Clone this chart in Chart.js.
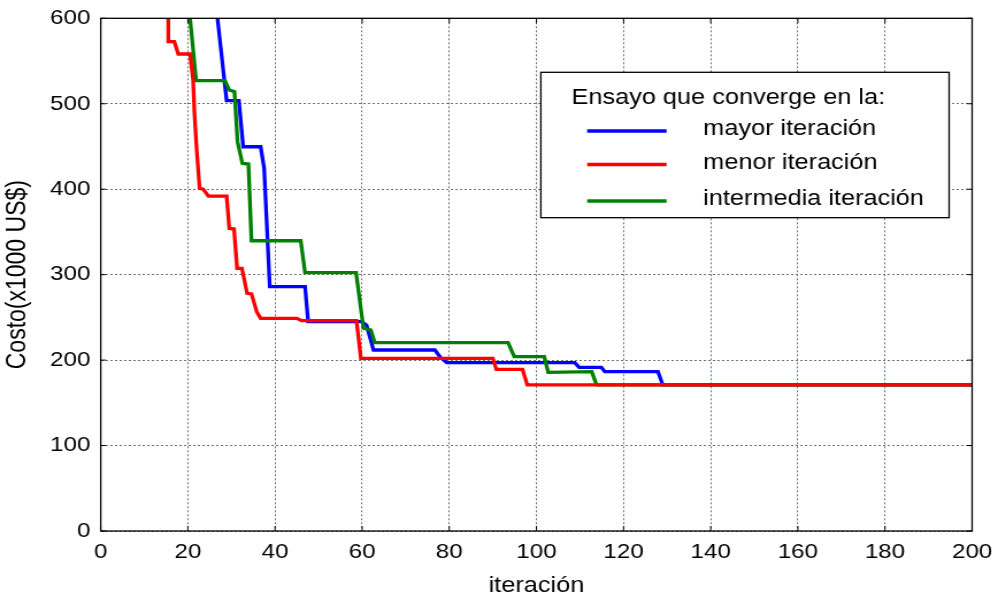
<!DOCTYPE html>
<html>
<head>
<meta charset="utf-8">
<script src="https://cdn.jsdelivr.net/npm/chart.js@4/dist/chart.umd.min.js"></script>
<style>
  html, body { margin: 0; padding: 0; background: #fff; }
  /* canvas is drawn narrower and widened by css, like the original figure export */
  #grafico { display: block; width: 998px; height: 599px; }
</style>
</head>
<body>
<canvas id="grafico" width="868" height="599" style="width:998px;height:599px"></canvas>
<script>
// iteración / costo (x1000 US$) para cada ensayo
const iterMayor = [25.9, 26.8, 28.9, 31.7, 32.7, 36.7, 37.5, 38.8, 46.9, 47.6, 59.9, 61.0, 62.6, 76.7, 78.0, 79.4, 108.8, 109.8, 114.9, 115.7, 127.9, 129.0, 200];
const costoMayor = [640, 600, 503.6, 503.6, 449.7, 449.7, 424.5, 285.9, 285.9, 245, 245, 241, 211.8, 211.8, 203, 197, 197, 191.6, 191.6, 186.4, 186.4, 170.9, 170.9];

const iterMenor = [15.5, 15.5, 16.9, 17.8, 20.5, 21.2, 21.5, 22.0, 22.7, 23.5, 24.7, 28.9, 29.5, 30.6, 31.3, 32.4, 33.6, 34.6, 35.8, 36.7, 45.0, 46.1, 58.7, 59.7, 90.0, 90.8, 96.8, 97.9, 200];
const costoMenor = [640, 572.6, 572.6, 558.2, 558.2, 528, 490, 448, 401, 400, 392, 392, 354.2, 353.4, 307.4, 307.4, 278.2, 277.4, 256.6, 248.9, 248.9, 246.1, 246.1, 202.1, 202.1, 189.2, 189.2, 170.9, 170.9];

const iterIntermedia = [20.2, 20.5, 21.9, 28.5, 29.5, 30.7, 31.4, 32.5, 33.9, 34.6, 45.9, 46.9, 58.6, 60.3, 62.0, 62.9, 93.5, 94.9, 101.8, 102.7, 112.7, 113.8, 200];
const costoIntermedia = [640, 600, 527, 527, 516, 514, 455.6, 430.3, 429.5, 339.7, 339.7, 302.3, 302.3, 237.2, 235.2, 220.4, 220.4, 204, 204, 185.7, 186.4, 170.9, 170.9];

const nombres = ["mayor iteración", "menor iteración", "intermedia iteración"];
const colores = ["#0000ff", "#ff0000", "#008000"];
const tituloLeyenda = "Ensayo que converge en la:";

const fuente = '"Liberation Sans", Arial, sans-serif';

function puntos(xs, ys) {
  return xs.map((x, i) => ({ x: x, y: ys[i] }));
}

// caja negra con marcas hacia adentro (estilo matlab)
const marcoEjes = {
  id: "marcoEjes",
  afterDatasetsDraw(chart) {
    const ctx = chart.ctx;
    const a = chart.chartArea;
    const sx = chart.scales.x, sy = chart.scales.y;
    ctx.save();
    ctx.strokeStyle = "#000";
    ctx.lineWidth = 1.3;
    ctx.strokeRect(a.left, a.top, a.right - a.left, a.bottom - a.top);
    ctx.lineWidth = 1;
    ctx.beginPath();
    for (let v = 0; v <= 200; v += 20) {
      const px = sx.getPixelForValue(v);
      ctx.moveTo(px, a.bottom); ctx.lineTo(px, a.bottom - 5);
      ctx.moveTo(px, a.top); ctx.lineTo(px, a.top + 5);
    }
    for (let v = 0; v <= 600; v += 100) {
      const py = sy.getPixelForValue(v);
      ctx.moveTo(a.left, py); ctx.lineTo(a.left + 4.5, py);
      ctx.moveTo(a.right, py); ctx.lineTo(a.right - 4.5, py);
    }
    ctx.stroke();
    ctx.restore();
  }
};

const cajaLeyenda = {
  id: "cajaLeyenda",
  afterDraw(chart) {
    const ctx = chart.ctx;
    const filas = [131, 164.5, 201];
    ctx.save();
    ctx.fillStyle = "#fff";
    ctx.fillRect(470.4, 72.3, 355.1, 145.4);
    ctx.strokeStyle = "#000";
    ctx.lineWidth = 1.3;
    ctx.strokeRect(470.4, 72.3, 355.1, 145.4);
    ctx.font = "22px " + fuente;
    ctx.fillStyle = "#000";
    ctx.textBaseline = "middle";
    ctx.fillText(tituloLeyenda, 497.1, 98);
    nombres.forEach((n, i) => {
      ctx.strokeStyle = colores[i];
      ctx.lineWidth = 3.3;
      ctx.beginPath();
      ctx.moveTo(510.7, filas[i]);
      ctx.lineTo(579.7, filas[i]);
      ctx.stroke();
      ctx.fillText(n, 611.6, filas[i] - 2);
    });
    ctx.restore();
  }
};

new Chart(document.getElementById("grafico"), {
  type: "line",
  data: {
    datasets: [
      { label: nombres[0], data: puntos(iterMayor, costoMayor), borderColor: colores[0], order: 2 },
      { label: nombres[1], data: puntos(iterMenor, costoMenor), borderColor: colores[1], order: 0 },
      { label: nombres[2], data: puntos(iterIntermedia, costoIntermedia), borderColor: colores[2], order: 1 },
    ],
  },
  options: {
    responsive: false,
    animation: false,
    devicePixelRatio: 1,
    layout: { padding: { left: 0, right: 22.5, top: 18.3, bottom: 0 } },
    elements: {
      point: { radius: 0 },
      line: { borderWidth: 3.3, tension: 0, fill: false },
    },
    datasets: { line: { clip: 0 } },
    scales: {
      x: {
        type: "linear",
        min: 0,
        max: 200,
        ticks: { stepSize: 20, color: "#000", padding: 9, maxRotation: 0, font: { family: fuente, size: 21 } },
        grid: { color: "#707070", drawTicks: false },
        border: { display: false, dash: [2, 2] },
        title: { display: true, text: "iteración", color: "#000", padding: 0, font: { family: fuente, size: 22 } },
        afterFit: (s) => { s.height = 68; s.paddingLeft = 0; s.paddingRight = 0; },
      },
      y: {
        min: 0,
        max: 600,
        ticks: { stepSize: 100, color: "#000", padding: 9, font: { family: fuente, size: 21 } },
        grid: { color: "#707070", drawTicks: false },
        border: { display: false, dash: [2, 2] },
        title: { display: true, text: "Costo(x1000 US$)", color: "#000", padding: { top: 2, bottom: 0 }, font: { family: fuente, size: 23 } },
        afterFit: (s) => { s.width = 87.6; s.paddingTop = 0; s.paddingBottom = 0; },
      },
    },
    plugins: {
      legend: { display: false },
      tooltip: { enabled: false },
    },
  },
  plugins: [marcoEjes, cajaLeyenda],
});
</script>
</body>
</html>
